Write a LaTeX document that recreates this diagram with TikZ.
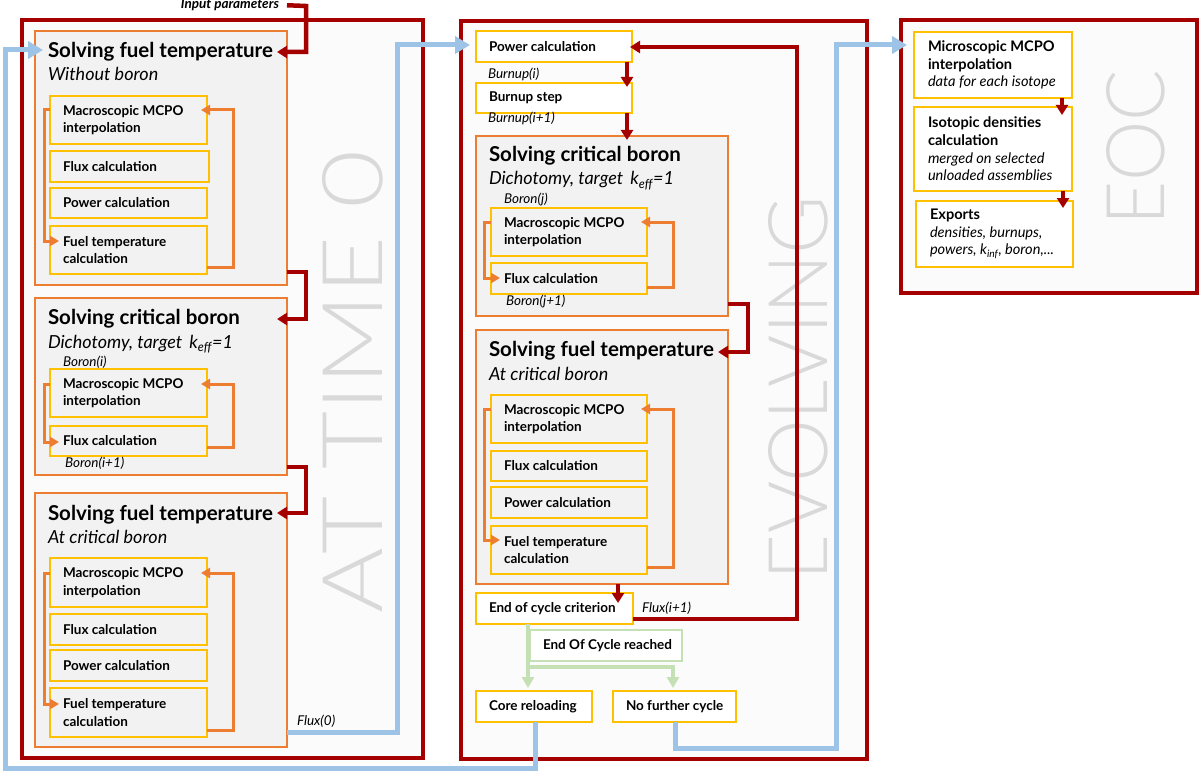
\documentclass[tikz,border=0pt]{standalone}
\usepackage{fontspec}
\setmainfont{Lato}
\newfontfamily\lightfont{Lato Light}
\usetikzlibrary{arrows.meta}
\definecolor{dred}{HTML}{A50000}
\definecolor{orng}{HTML}{ED7D31}
\definecolor{ylw}{HTML}{FFC000}
\definecolor{lblue}{HTML}{9DC3E6}
\definecolor{lgreen}{HTML}{C5E0B4}
\definecolor{bggray}{HTML}{F2F2F2}
\definecolor{framefill}{HTML}{FBFBFB}
\definecolor{bigtxt}{HTML}{D9D9D9}
\newcommand{\rbox}[6]{%
  \node[#1, minimum width={(#5-#3)*1pt}, minimum height={(#6-#4)*1pt}] (#2) at ({(#3+#5)/2},{(#4+#6)/2}) {};}
\newcommand{\tbox}[7]{%
  \node[#1, minimum width={(#5-#3)*1pt}, minimum height={(#6-#4)*1pt}] (#2) at ({(#3+#5)/2},{(#4+#6)/2}) {};
  \node[boxtext, anchor=west] (#2t) at ([xshift=13pt]#2.west) {#7};}
\newcommand{\ebox}[7]{%
  \node[#1, minimum width={(#5-#3)*1pt}, minimum height={(#6-#4)*1pt}] (#2) at ({(#3+#5)/2},{(#4+#6)/2}) {};
  \node[boxtext, eocfont, anchor=west] (#2t) at ([xshift=14pt]#2.west) {#7};}
\begin{document}
\begin{tikzpicture}[x=1pt,y=-1pt,
  every node/.style={inner sep=0pt, outer sep=0pt},
  frame/.style={draw=dred, line width=4pt, fill=framefill, rectangle},
  obox/.style={draw=orng, line width=1.5pt, fill=bggray, rectangle},
  ybox/.style={draw=ylw, line width=1.5pt, fill=bggray, rectangle},
  wbox/.style={draw=ylw, line width=1.5pt, fill=white, rectangle},
  gbox/.style={draw=lgreen, line width=1.5pt, fill=white, rectangle},
  boxtext/.style={align=left, font=\fontsize{13.5}{17.5}\selectfont\bfseries, text=black},
  eocfont/.style={font=\fontsize{14.6}{17.6}\selectfont\bfseries},
  head/.style={anchor=base west, font=\fontsize{20.5}{24}\selectfont\bfseries},
  sub/.style={anchor=base west, font=\fontsize{18}{22}\selectfont\itshape},
  lbl/.style={anchor=base west, font=\fontsize{13.5}{16}\selectfont\itshape},
  big/.style={rotate=90, text=bigtxt, font=\lightfont},
  redc/.style={draw=dred, line width=4.5pt, -{Triangle[length=10pt,width=12pt]}},
  oran/.style={draw=orng, line width=3pt, -{Triangle[length=9pt,width=10pt]}},
  blu/.style={draw=lblue, line width=5pt, -{Triangle[length=15pt,width=17pt]}},
  grn/.style={draw=lgreen, line width=4pt, -{Triangle[length=11pt,width=12pt]}}
]
\useasboundingbox (0,0) rectangle (1200,773);

% frames
\rbox{frame}{F1}{22}{20}{423}{758}
\rbox{frame}{F2}{461}{21}{867}{759}
\rbox{frame}{F3}{901}{20}{1197}{293}

% big vertical texts
\node[big] (bigA) at (353,382) {\resizebox{463pt}{60pt}{\fontsize{80}{80}\selectfont AT TIME 0}};
\node[big] (bigE) at (798.5,388) {\resizebox{384pt}{59pt}{\fontsize{80}{80}\selectfont EVOLVING}};
\node[big] (bigC) at (1136,147.5) {\resizebox{155pt}{58pt}{\fontsize{80}{80}\selectfont EOC}};

% orange boxes
\rbox{obox}{A}{35}{31}{287}{285}
\rbox{obox}{B}{35}{298}{287}{475}
\rbox{obox}{C}{35}{493}{287}{747}
\rbox{obox}{D}{476}{136}{728}{316}
\rbox{obox}{E}{476}{330}{728}{584}

% headings
\node[head] (Ah) at (48,57.5) {Solving fuel temperature};
\node[sub]  (As) at (48,81) {Without boron};
\node[head] (Bh) at (48,324) {Solving critical boron};
\node[sub]  (Bs) at (48,348) {Dichotomy, target\hspace{3pt} k\textsubscript{eff}=1};
\node[head] (Ch) at (48,520) {Solving fuel temperature};
\node[sub]  (Cs) at (48,543) {At critical boron};
\node[head] (Dh) at (489,162) {Solving critical boron};
\node[sub]  (Ds) at (489,185) {Dichotomy, target\hspace{3pt} k\textsubscript{eff}=1};
\node[head] (Eh) at (489,356) {Solving fuel temperature};
\node[sub]  (Es) at (489,380) {At critical boron};

% inner boxes A
\tbox{ybox}{A1}{50}{96}{207}{144}{Macroscopic MCPO\\interpolation}
\tbox{ybox}{A2}{50}{151}{209}{182}{Flux calculation}
\tbox{ybox}{A3}{50}{188}{207}{218}{Power calculation}
\tbox{ybox}{A4}{50}{226}{207}{274}{Fuel temperature\\calculation}
% B
\tbox{ybox}{B1}{50}{369}{207}{417}{Macroscopic MCPO\\interpolation}
\tbox{ybox}{B2}{50}{426}{207}{456}{Flux calculation}
% C
\tbox{ybox}{C1}{50}{558}{207}{607}{Macroscopic MCPO\\interpolation}
\tbox{ybox}{C2}{50}{614}{207}{645}{Flux calculation}
\tbox{ybox}{C3}{50}{650}{207}{681}{Power calculation}
\tbox{ybox}{C4}{50}{688}{207}{737}{Fuel temperature\\calculation}
% D
\tbox{ybox}{D1}{491}{208}{647}{256}{Macroscopic MCPO\\interpolation}
\tbox{ybox}{D2}{491}{263}{647}{294}{Flux calculation}
% E
\tbox{ybox}{E1}{491}{395}{647}{443}{Macroscopic MCPO\\interpolation}
\tbox{ybox}{E2}{491}{451}{647}{481}{Flux calculation}
\tbox{ybox}{E3}{491}{487}{647}{518}{Power calculation}
\tbox{ybox}{E4}{491}{526}{647}{574}{Fuel temperature\\calculation}

% evolving single boxes
\tbox{wbox}{P}{476}{31}{632}{62}{Power calculation}
\tbox{wbox}{BU}{476}{83}{632}{113}{Burnup step}
\tbox{wbox}{EC}{476}{593}{633}{624}{End of cycle criterion}
\tbox{gbox}{EOR}{530}{630}{682}{661}{End Of Cycle reached}
\tbox{wbox}{CR}{476}{691}{592}{722}{Core reloading}
\tbox{wbox}{NF}{613}{691}{736}{722}{No further cycle}

% EOC boxes
\ebox{wbox}{M}{914}{32}{1072}{98}{Microscopic MCPO\\interpolation\\{\mdseries\itshape data for each isotope}}
\ebox{wbox}{I}{914}{107}{1072}{191}{Isotopic densities\\calculation\\{\mdseries\itshape merged on selected}\\{\mdseries\itshape unloaded assemblies}}
\ebox{wbox}{X}{916}{201}{1073}{267}{Exports\\{\mdseries\itshape densities, burnups,}\\{\mdseries\itshape powers, k\textsubscript{inf}, boron,...}}

% small labels
\node[anchor=base east, font=\fontsize{13.5}{16}\selectfont\bfseries\itshape] (inp) at (279,9) {Input parameters};
\node[lbl] (bu1) at (488,79) {Burnup(i)};
\node[lbl] (bu2) at (488,123) {Burnup(i+1)};
\node[lbl] (bo1) at (63,366) {Boron(i)};
\node[lbl] (bo2) at (65,467) {Boron(i+1)};
\node[lbl] (bo3) at (504,204) {Boron(j)};
\node[lbl] (bo4) at (506,305) {Boron(j+1)};
\node[lbl] (fx0) at (297,725) {Flux(0)};
\node[lbl] (fx1) at (642,612) {Flux(i+1)};

% orange loops
\draw[oran, shorten >=-9pt] (A1.west |- 0,110) -- (44,110) -- (44,241) -- (A4.west |- 0,241);
\draw[oran, shorten >=-6pt] (A4.east |- 0,267) -- (233,267) -- (233,110) -- (A1.east |- 0,110);
\draw[oran, shorten >=-9pt] (B1.west |- 0,384) -- (44,384) -- (44,442) -- (B2.west |- 0,442);
\draw[oran, shorten >=-6pt] (B2.east |- 0,447) -- (233,447) -- (233,384) -- (B1.east |- 0,384);
\draw[oran, shorten >=-9pt] (C1.west |- 0,573) -- (44,573) -- (44,704) -- (C4.west |- 0,704);
\draw[oran, shorten >=-6pt] (C4.east |- 0,730) -- (233,730) -- (233,573) -- (C1.east |- 0,573);
\draw[oran, shorten >=-9pt] (D1.west |- 0,222) -- (484,222) -- (484,278) -- (D2.west |- 0,278);
\draw[oran, shorten >=-6pt] (D2.east |- 0,287) -- (673,287) -- (673,222) -- (D1.east |- 0,222);
\draw[oran, shorten >=-9pt] (E1.west |- 0,409) -- (484,409) -- (484,540) -- (E4.west |- 0,540);
\draw[oran, shorten >=-6pt] (E4.east |- 0,567) -- (673,567) -- (673,409) -- (E1.east |- 0,409);

% red connectors
\draw[redc, shorten >=-10pt] ([xshift=8pt]inp.east) -- (306,6) -- (306,52) -- (A.east |- 0,52);
\draw[redc, shorten >=-10pt] (A.east |- 0,272) -- (306,272) -- (306,319) -- (B.east |- 0,319);
\draw[redc, shorten >=-10pt] (B.east |- 0,467) -- (306,467) -- (306,513) -- (C.east |- 0,513);
\draw[redc, shorten >=-4pt] (P.south -| 627,0) -- (BU.north -| 627,0);
\draw[redc, shorten >=-4pt] (BU.south -| 627,0) -- (D.north -| 627,0);
\draw[redc, shorten >=-10pt] (D.east |- 0,304) -- (748,304) -- (748,352) -- (E.east |- 0,352);
\draw[redc, shorten >=-10pt] (E.south -| 618,0) -- (EC.north -| 618,0);
\draw[redc, shorten >=-2pt] (EC.east |- 0,619) -- (797,619) -- (797,47) -- (P.east |- 0,47);
\draw[redc, shorten >=-8pt] (M.south -| 1062,0) -- (I.north -| 1062,0);
\draw[redc, shorten >=-7pt] (I.south -| 1063,0) -- (X.north -| 1063,0);

% green
\coordinate (gsplit) at (528,667);
\draw[grn, shorten >=3pt] (EC.south -| 528,0) -- (CR.north -| 528,0);
\draw[grn, shorten >=3pt] (gsplit) -- (673,667) -- (NF.north -| 673,0);

% blue
\draw[blu, shorten >=6pt] (C.east |- 0,732) -- (397,732) -- (397,45) -- (P.west |- 0,45);
\draw[blu, shorten >=-8pt] (CR.south -| 535,0) -- (535,768) -- (5,768) -- (5,50) -- (A.west |- 0,50);
\draw[blu, shorten >=7pt] (NF.south -| 675,0) -- (675,748) -- (836,748) -- (836,45) -- (M.west |- 0,45);
\end{tikzpicture}
\end{document}
